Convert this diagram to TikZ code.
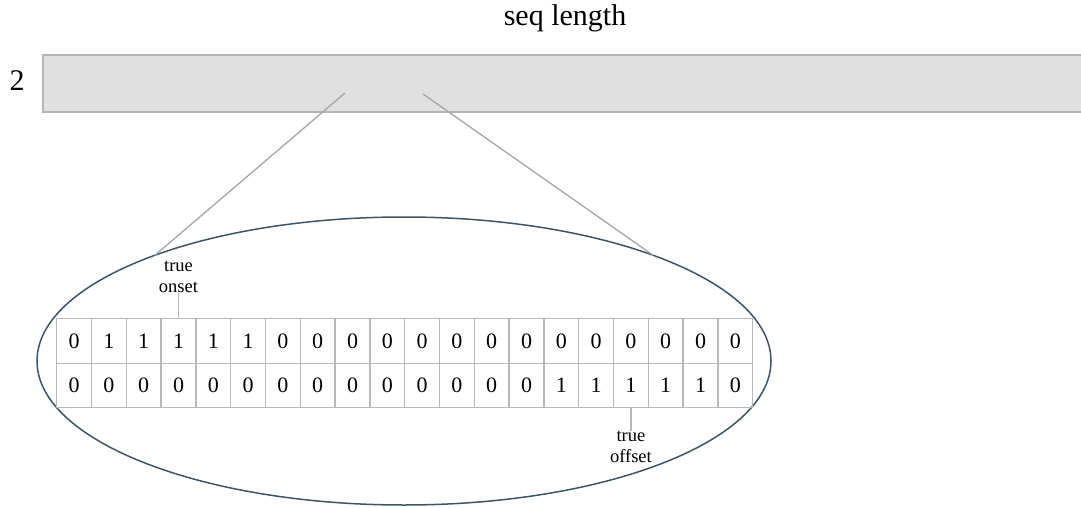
\documentclass[tikz,border=0pt]{standalone}
\usepackage{fontspec}
\setmainfont{Liberation Serif}
\usetikzlibrary{shapes.geometric}
\definecolor{barfill}{HTML}{E0E0E0}
\definecolor{barline}{HTML}{B4B4B4}
\definecolor{gridline}{HTML}{B8B8B8}
\definecolor{zoomline}{HTML}{A6A6A6}
\definecolor{ringline}{HTML}{3E5566}
\tikzset{
  seqbar/.style={draw=barline, line width=1.6pt, fill=barfill, inner sep=0pt,
                 minimum width=1060pt, minimum height=57pt, anchor=north west},
  lens/.style={ellipse, draw=ringline, line width=1.5pt, inner sep=0pt, outer sep=0pt,
               minimum width=734pt, minimum height=288pt},
  cell/.style={draw=gridline, line width=1.4pt, inner sep=0pt, anchor=north west,
               minimum width=34.8pt, minimum height=44.5pt,
               font=\fontsize{22}{26}\selectfont},
  zoomray/.style={draw=zoomline, line width=1.3pt},
  tick/.style={draw=gridline, line width=1.4pt},
  bigtext/.style={anchor=base, inner sep=0pt, font=\fontsize{30}{36}\selectfont},
  marker/.style={align=center, inner sep=0pt, font=\fontsize{18.5}{21}\selectfont}
}
\begin{document}
\begin{tikzpicture}[x=1pt, y=-1pt]
  \useasboundingbox (0,0) rectangle (1081,508);

  % sequence bar and its labels
  \node[seqbar] (bar) at (42,54) {};
  \node[bigtext] (len) at (565,26) {seq length};
  \node[bigtext] (dim) at (17,91) {2};

  % magnified window
  \node[lens] (lens) at (404,361) {};
  \coordinate (ra) at (345,93);
  \coordinate (rb) at (423,94);
  \draw[zoomray] (ra) -- (lens.157.5);
  \draw[zoomray] (rb) -- (lens.23.5);

  % two rows of frame labels
  \def\rowa{0,1,1,1,1,1,0,0,0,0,0,0,0,0,0,0,0,0,0,0}
  \def\rowb{0,0,0,0,0,0,0,0,0,0,0,0,0,0,1,1,1,1,1,0}
  \foreach \v [count=\i from 0] in \rowa
    \node[cell] (a\i) at (56+34.8*\i,318) {\v};
  \foreach \v [count=\i from 0] in \rowb
    \node[cell] (b\i) at (56+34.8*\i,362.5) {\v};

  % onset / offset markers
  \node[marker, anchor=south] (on) at (a3.north |- 0,293) {true\\onset};
  \draw[tick] (on.south) -- (a3.north);
  \node[marker, anchor=north] (off) at (b16.south |- 0,431) {true\\offset};
  \draw[tick] (b16.south) -- (off.north);
\end{tikzpicture}
\end{document}
